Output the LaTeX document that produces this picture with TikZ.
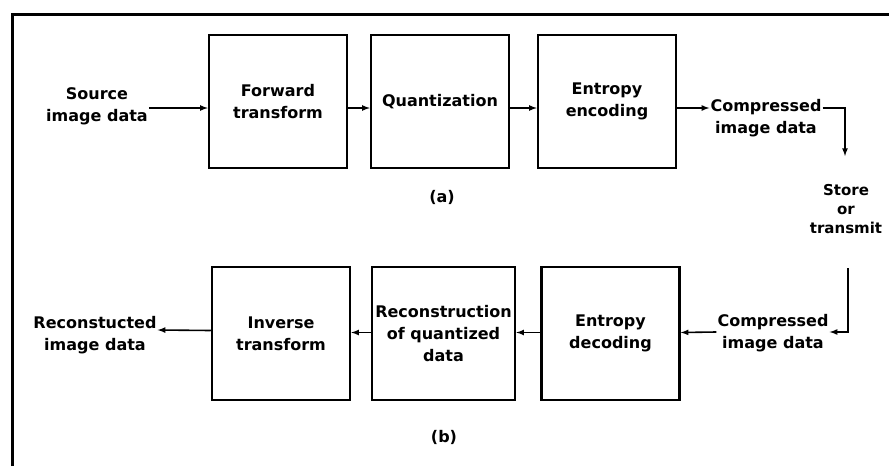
\documentclass[tikz,border=0pt]{standalone}
\usepackage{fontspec}
\setmainfont{DejaVu Sans}

\begin{document}
\begin{tikzpicture}[x=1pt,y=-1pt,>=latex,
  block/.style={draw,line width=2.5pt,minimum width=138pt,minimum height=133pt,
    align=center,font=\bfseries\fontsize{16}{22}\selectfont},
  lbl/.style={align=center,inner sep=1pt,font=\bfseries\fontsize{16}{22}\selectfont}]
  \useasboundingbox (0,0) rectangle (889,466);

  % Rahmen
  \draw[line width=3pt] (12,466) -- (12,14) -- (889,14);

  % (a) Kodierer
  \node[lbl] (src) at (97,106) {Source\\image data};
  \node[block] (fwd) at (278,101.5) {Forward\\transform};
  \node[block] (quant) at (440,101.5) {Quantization};
  \node[block] (enc) at (607,101.5) {Entropy\\encoding};
  \node[lbl] (cmpa) at (766,118) {Compressed\\image data};
  \node[lbl] (a) at (442,197) {(a)};

  % Speicher / Kanal
  \node[lbl,font=\bfseries\fontsize{15}{19}\selectfont] (store) at (846,209) {Store\\or\\transmit};
  \coordinate (down) at (845,156);
  \coordinate (up) at (848,268);

  % (b) Dekodierer
  \node[lbl] (cmpb) at (773,333) {Compressed\\image data};
  \node[block] (dec) at (610.5,333.5) {Entropy\\decoding};
  \node[block] (recon) at (443.5,333.5) {Reconstruction\\of quantized\\data};
  \node[block] (inv) at (281,333.5) {Inverse\\transform};
  \node[lbl] (out) at (95,335) {Reconstucted\\image data};
  \node[lbl] (b) at (444,437) {(b)};

  \begin{scope}[line width=1.6pt]
    \draw[->] ([yshift=-2pt]src.east) -- ([yshift=-6.5pt]fwd.west);
    \draw[->] ([yshift=-6.5pt]fwd.east) -- ([yshift=-6.5pt]quant.west);
    \draw[->] ([yshift=-6.5pt]quant.east) -- ([yshift=-6.5pt]enc.west);
    \draw[->] ([yshift=-6.5pt]enc.east) -- ([yshift=10pt]cmpa.west);
    \draw[->] ([yshift=10pt]cmpa.east) -| (down);
    \draw[->] (up) |- ([yshift=1pt]cmpb.east);
    \draw[->] ([yshift=1pt]cmpb.west) -- ([yshift=1pt]dec.east);
    \draw[->] ([yshift=1pt]dec.west) -- ([yshift=1pt]recon.east);
    \draw[->] ([yshift=1pt]recon.west) -- ([yshift=1pt]inv.east);
    \draw[->] ([yshift=3pt]inv.west) -- ([yshift=5pt]out.east);
  \end{scope}
\end{tikzpicture}
\end{document}
